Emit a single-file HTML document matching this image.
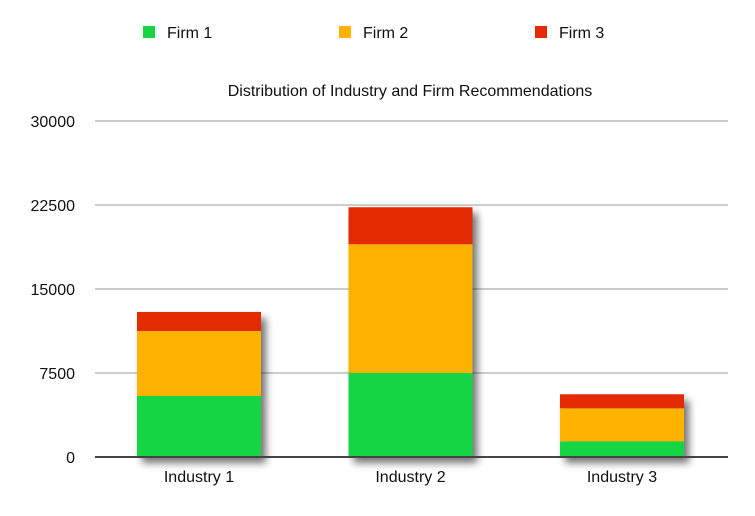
<!DOCTYPE html>
<html><head><meta charset="utf-8"><style>
body{margin:0;background:#fff;font-family:"Liberation Sans",sans-serif;}
svg text{font-family:"Liberation Sans",sans-serif;fill:#111;}
</style></head><body>
<svg width="755" height="511" viewBox="0 0 755 511">
<defs><filter id="sh" x="-20%" y="-20%" width="150%" height="150%"><feGaussianBlur in="SourceAlpha" stdDeviation="4"/><feOffset dx="5" dy="6"/><feComponentTransfer><feFuncA type="linear" slope="0.55"/></feComponentTransfer><feMerge><feMergeNode/><feMergeNode in="SourceGraphic"/></feMerge></filter></defs>
<g id="legend"></g>
<text x="410" y="96" font-size="16" text-anchor="middle">Distribution of Industry and Firm Recommendations</text>
<g id="grid"></g>
<g id="bars"></g>
<line x1="95" y1="457" x2="728" y2="457" stroke="#444" stroke-width="2"/>
</svg>
<script>
const categories=["Industry 1","Industry 2","Industry 3"];
const seriesNames=["Firm 1","Firm 2","Firm 3"];
const firm1=[5450,7500,1400];
const firm2=[5800,11500,2950];
const firm3=[1700,3300,1250];
const ticks=[0,7500,15000,22500,30000];
const colors=["#17d545","#fdb200","#e42a00"];
const NS="http://www.w3.org/2000/svg";
function y(v){return 457-v*336/30000;}
function x(i){return 137+i*211.5;}
const bw=124;
function mk(t,a,p){const e=document.createElementNS(NS,t);for(const k in a)e.setAttribute(k,a[k]);p.appendChild(e);return e;}
const grid=document.getElementById('grid');
ticks.forEach(t=>{
 if(t>0){const l=mk('line',{x1:95,x2:728,y1:y(t),y2:y(t),stroke:'#bbb','stroke-width':1.5},grid);
 
 }
 const tx=mk('text',{x:75,y:y(t)+6,'font-size':16,'text-anchor':'end'},grid);tx.textContent=t;
 
 
});
const bars=document.getElementById('bars');
const series=[firm1,firm2,firm3];
categories.forEach((c,i)=>{
 const g=mk('g',{filter:'url(#sh)'},bars);
 
 
 let base=0;
 series.forEach((s,k)=>{
  const top=base+s[i];
  const r=mk('rect',{x:x(i),y:y(top),width:bw,height:y(base)-y(top),fill:colors[k]},g);
  
  
  base=top;
 });
 const t=mk('text',{x:x(i)+bw/2,y:482,'font-size':16,'text-anchor':'middle'},bars);t.textContent=c;
 
 
});
const lg=document.getElementById('legend');
seriesNames.forEach((n,k)=>{
 const lx=143+k*196;
 const r=mk('rect',{x:lx,y:26,width:12,height:12,fill:colors[k]},lg);
 
 
 const t=mk('text',{x:lx+24,y:38,'font-size':16},lg);t.textContent=n;
 
 
});
</script>
</body></html>
